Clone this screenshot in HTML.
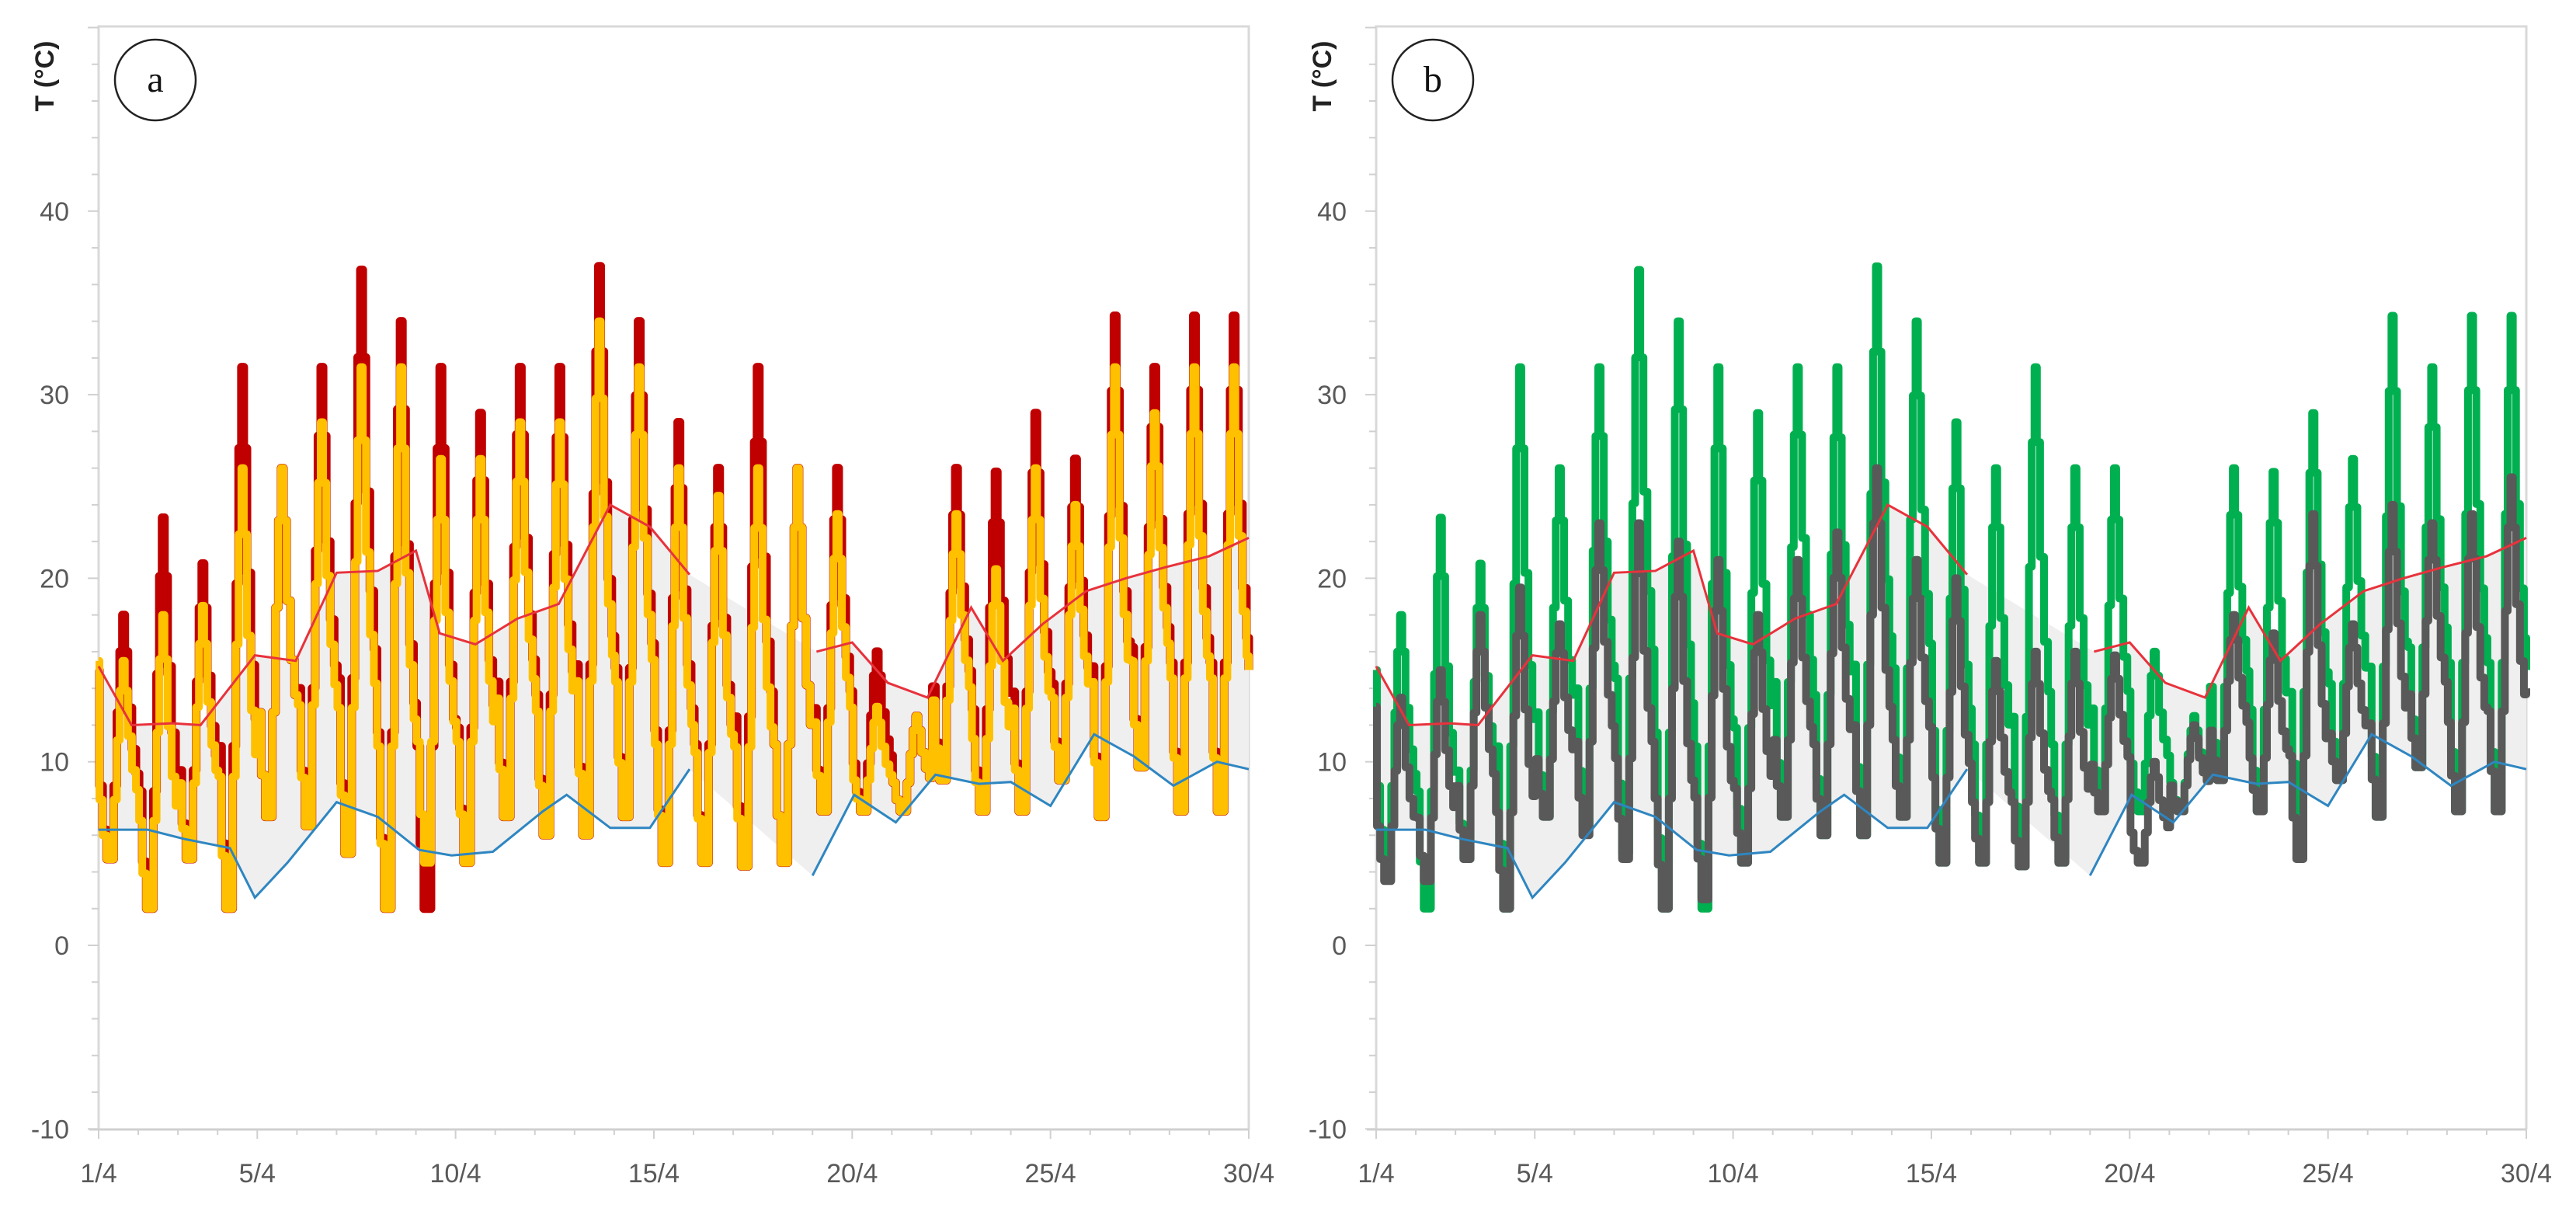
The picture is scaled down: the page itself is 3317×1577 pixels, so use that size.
<!DOCTYPE html>
<html><head><meta charset="utf-8">
<style>
html,body{margin:0;padding:0;background:#fff;}
svg{display:block;}
text{font-family:"Liberation Sans",sans-serif;}
</style></head>
<body>
<svg id="chart" width="3317" height="1577" viewBox="0 0 3317 1577"></svg>
<script>
// ---- data ----
const xTickLabels = ["1/4","5/4","10/4","15/4","20/4","25/4","30/4"];
const xTickDays = [0,4,9,14,19,24,29];
const yTicks = [-10,0,10,20,30,40];
const outdoorMax = [18,23.3,20.8,31.5,26,31.5,36.8,34,31.5,29,31.5,31.5,37,34,28.5,26,31.5,26,26,16,12.5,26,25.8,29,26.5,34.3,31.5,34.3,34.3];
const outdoorMin = [4.7,2,4.7,2,7,6.5,5,2,2,4.5,7,6,6,7,4.5,4.5,4.3,4.5,7.3,7.3,7.3,9,7.3,7.3,9,7,9.7,7.3,7.3];
const indoorAMax = [15.5,18,18.5,26,26,28.5,31.5,31.5,26.5,26.5,28.5,28.5,34,31.5,26,24.5,26,26,23.5,13,12.5,23.5,20.5,26,24,31.5,29,31.5,31.5];
const indoorAMin = [4.7,2,4.7,2,7,6.5,5,2,4.5,4.5,7,6,6,7,4.5,4.5,4.3,4.5,7.3,7.3,7.3,9,7.3,7.3,9,7,9.7,7.3,7.3];
const indoorBMax = [13.5,15,18,19.5,17.5,23,23,22,21,18,21,22.5,26,21,20,15.5,16,16,15.8,10,12,18,17,23.5,17.5,24,23,23.5,25.5];
const indoorBMin = [3.5,3.5,4.7,2,7,6,4.7,2,2.5,4.5,7,6,6,7,4.5,4.5,4.3,4.5,7.3,4.5,7.3,9,7.3,4.7,9,7,9.7,7.3,7.3];
const startOut = 15, endOut = 15, startA = 15.5, endA = 15, startB = 13, endB = 14;
const upperDays = [0,0.83,1.86,2.57,3.94,4.97,6.0,7.04,8.0,8.6,9.5,10.56,11.6,12.9,13.9,14.9,18.1,19.0,19.9,20.9,22.0,22.8,23.8,24.9,25.9,26.9,28.0,29];
const upperVals = [15.2,12,12.1,12,15.8,15.5,20.3,20.4,21.5,17,16.4,17.8,18.6,24,22.8,20.2,16,16.5,14.3,13.5,18.4,15.5,17.5,19.3,20,20.6,21.2,22.2];
const lowerDays = [0,1.24,2.15,3.31,3.94,4.76,6.0,7.04,8.08,8.9,9.94,11.2,11.8,12.9,13.9,14.9,18.0,19.05,20.1,21.1,22.2,23.0,24.0,25.1,26.1,27.1,28.2,29];
const lowerVals = [6.3,6.3,5.8,5.3,2.6,4.5,7.8,7,5.2,4.9,5.1,7.3,8.2,6.4,6.4,9.6,3.8,8.2,6.7,9.3,8.8,8.9,7.6,11.5,10.3,8.7,10,9.6];
const gapAfterIndex = 15;

const NS = "http://www.w3.org/2000/svg";
const svg = document.getElementById("chart");
function mk(tag, attrs, parent){
  const e = document.createElementNS(NS, tag);
  for (const k in attrs) e.setAttribute(k, attrs[k]);
  (parent||svg).appendChild(e);
  return e;
}
const Y0 = 1217, YU = 23.63, TOP = 34, BOTTOM = 1454;
function yS(v){ return Y0 - v*YU; }

// daily profile: [time offset within day, fraction of daily range]
const profT = [0.02,0.1,0.2,0.3,0.38,0.46,0.53,0.6,0.66,0.74,0.84,0.94];
const profF = [0.3,0.12,0.0,0.0,0.3,0.6,0.85,1.0,0.85,0.62,0.45,0.35];
function dailySeries(start, mins, maxs, end){
  const pts = [[0,start]];
  for (let i=0;i<mins.length;i++){
    for (let k=0;k<profT.length;k++) pts.push([i+profT[k], mins[i] + profF[k]*(maxs[i]-mins[i])]);
  }
  pts.push([29,end]);
  return pts;
}

function drawPanel(x0, letter, colOut, colIn, inMax, inMin, sIn, eIn, wOut, wIn){
  const dayW = 1481/29;
  const xS = d => x0 + d*dayW;
  const g = mk("g", {});
  
  
  const frame = mk("path", {d:`M${x0} ${BOTTOM}V${TOP}H${x0+1481}V${BOTTOM}`, fill:"none", stroke:"#d9d9d9", "stroke-width":3}, g);
  
  
  const xAxis = mk("line", {x1:x0-12, y1:BOTTOM, x2:x0+1481, y2:BOTTOM, stroke:"#d0d0d0", "stroke-width":3}, g);
  
  
  for (let v=-10; v<=50; v+=2){
    const t = mk("line", {x1:x0-(v%10===0?14:9), y1:yS(v), x2:x0, y2:yS(v), stroke:"#d0d0d0", "stroke-width":2}, g);
    
    
  }
  for (let d=0; d<=29; d++){
    const t = mk("line", {x1:xS(d), y1:BOTTOM, x2:xS(d), y2:BOTTOM+(xTickDays.includes(d)?12:7), stroke:"#d0d0d0", "stroke-width":2}, g);
    
    
  }
  yTicks.forEach(v=>{
    const t = mk("text", {x:x0-38, y:yS(v)+12, "text-anchor":"end", "font-size":34, fill:"#595959"}, g);
    t.textContent = v;
    
    
  });
  xTickLabels.forEach((lab,i)=>{
    const t = mk("text", {x:xS(xTickDays[i]), y:1522, "text-anchor":"middle", "font-size":34, fill:"#595959"}, g);
    t.textContent = lab;
    
    
  });
  const yt = mk("text", {x:0, y:0, transform:`translate(${x0-58},98) rotate(-90)`, "text-anchor":"middle", "font-size":34, "font-weight":"bold", fill:"#222"}, g);
  yt.textContent = "T (°C)";
  
  
  let bd = "";
  upperDays.forEach((d,i)=>{ bd += (i?"L":"M") + xS(d) + " " + yS(upperVals[i]); });
  for (let i=lowerDays.length-1;i>=0;i--) bd += "L" + xS(lowerDays[i]) + " " + yS(lowerVals[i]);
  const band = mk("path", {d:bd+"Z", fill:"#efefef", stroke:"none"}, g);
  
  
  function stepLine(pts, col, w, name){
    let d = "M" + xS(pts[0][0]) + " " + yS(pts[0][1]);
    for (let i=1;i<pts.length;i++){
      d += "H" + xS(pts[i][0]) + "V" + yS(pts[i][1]);
    }
    const p = mk("path", {d:d, fill:"none", stroke:col, "stroke-width":w, "stroke-linejoin":"round"}, g);
    
    
  }
  stepLine(dailySeries(startOut, outdoorMin, outdoorMax, endOut), colOut, wOut, "outdoor-temperature-line");
  stepLine(dailySeries(sIn, inMin, inMax, eIn), colIn, wIn, "indoor-temperature-line");
  function limit(days, vals, col, name){
    let d1="", d2="";
    days.forEach((d,i)=>{
      const s = xS(d)+" "+yS(vals[i]);
      if (i<=gapAfterIndex) d1 += (i?"L":"M")+s; else d2 += (i===gapAfterIndex+1?"M":"L")+s;
    });
    const p = mk("path", {d:d1+d2, fill:"none", stroke:col, "stroke-width":3}, g);
    
    
  }
  limit(upperDays, upperVals, "#e8323c", "upper-limit-line");
  limit(lowerDays, lowerVals, "#2e86c1", "lower-limit-line");
  const c = mk("circle", {cx:x0+73, cy:103, r:52, fill:"#fff", stroke:"#222", "stroke-width":2.5}, g);
  
  
  const lt = mk("text", {x:x0+73, y:118, "text-anchor":"middle", "font-size":48, fill:"#111", style:'font-family:"Liberation Serif",serif'}, g);
  lt.textContent = letter;
  
  
}
drawPanel(127, "a", "#c00000", "#ffc000", indoorAMax, indoorAMin, startA, endA, 11, 10);
drawPanel(1772, "b", "#00b050", "#595959", indoorBMax, indoorBMin, startB, endB, 10, 10);
</script>
</body></html>
